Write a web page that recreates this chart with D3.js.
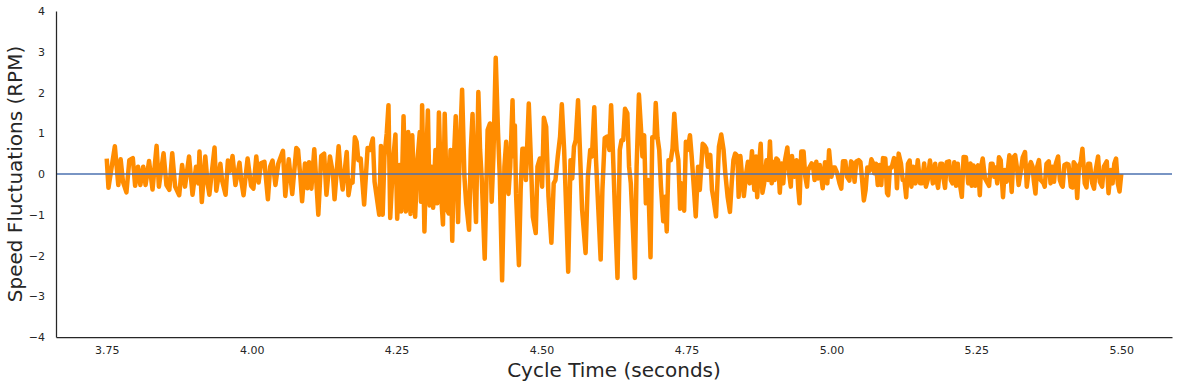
<!DOCTYPE html>
<html>
<head>
<meta charset="utf-8">
<script src="https://cdn.jsdelivr.net/npm/d3@7"></script>
<style>
  body { margin: 0; background: #fff; }
  text { font-family: "DejaVu Sans", sans-serif; fill: #262626; }
</style>
</head>
<body>
<div id="chart"></div>
<script>
// cycle time (s) of each sample
const cycleTime = [
  3.750, 3.753, 3.764, 3.770, 3.774, 3.778, 3.784, 3.789, 3.795, 3.799, 3.804, 3.808, 3.813, 3.817, 3.823, 3.829,
  3.836, 3.840, 3.848, 3.853, 3.858, 3.863, 3.868, 3.875, 3.880, 3.885, 3.892, 3.898, 3.904, 3.908, 3.910, 3.914,
  3.920, 3.924, 3.927, 3.936, 3.939, 3.946, 3.949, 3.955, 3.959, 3.963, 3.967, 3.972, 3.979, 3.982, 3.986, 3.993,
  3.999, 4.003, 4.008, 4.012, 4.016, 4.022, 4.028, 4.032, 4.036, 4.041, 4.046, 4.054, 4.058, 4.064, 4.070, 4.077,
  4.080, 4.084, 4.087, 4.092,
  4.096, 4.099, 4.103, 4.108, 4.111, 4.115, 4.120, 4.125, 4.129, 4.135, 4.140, 4.143, 4.150, 4.153, 4.157, 4.164,
  4.167, 4.171, 4.174, 4.178, 4.181, 4.184, 4.188, 4.194, 4.200, 4.204, 4.209, 4.212, 4.220, 4.223, 4.226, 4.229,
  4.233, 4.236, 4.239, 4.244, 4.248, 4.251, 4.255, 4.258, 4.262, 4.266, 4.270,
  4.274, 4.277, 4.282, 4.286, 4.290, 4.292, 4.294, 4.298, 4.301, 4.304, 4.307, 4.310, 4.313, 4.317, 4.320, 4.323,
  4.327, 4.330, 4.333, 4.337, 4.340, 4.343, 4.346, 4.349, 4.352, 4.356, 4.359, 4.363, 4.367, 4.370, 4.375, 4.378,
  4.381, 4.384, 4.387, 4.391, 4.394, 4.397, 4.402, 4.407, 4.411, 4.414, 4.417, 4.421, 4.425, 4.428, 4.432, 4.436,
  4.439, 4.443, 4.446,
  4.450, 4.452, 4.454, 4.456, 4.461, 4.464, 4.467, 4.470, 4.473, 4.475, 4.478, 4.481, 4.485, 4.490, 4.493, 4.497,
  4.501, 4.504, 4.508, 4.512, 4.517, 4.521, 4.524, 4.528, 4.532, 4.535, 4.539, 4.542, 4.546, 4.550, 4.553, 4.556,
  4.559, 4.563, 4.566, 4.570, 4.576, 4.580, 4.584, 4.587, 4.591, 4.594, 4.598, 4.602, 4.605, 4.609, 4.613, 4.617,
  4.620, 4.623, 4.626,
  4.631, 4.635, 4.638, 4.641, 4.644, 4.648, 4.651, 4.654, 4.658, 4.661, 4.664, 4.668, 4.672, 4.674, 4.677, 4.680,
  4.684, 4.688, 4.691, 4.695, 4.697, 4.700, 4.703, 4.706, 4.710, 4.713, 4.716, 4.719, 4.723, 4.726, 4.729, 4.733,
  4.736, 4.739, 4.742, 4.746, 4.749, 4.752, 4.756, 4.759, 4.763, 4.766, 4.770, 4.773, 4.778, 4.781, 4.784, 4.787,
  4.791, 4.794, 4.797, 4.801,
  4.806, 4.810, 4.814, 4.817, 4.821, 4.825, 4.828, 4.831, 4.834, 4.838, 4.840, 4.843, 4.846, 4.849, 4.853, 4.856,
  4.859, 4.863, 4.867, 4.870, 4.872, 4.875, 4.878, 4.881, 4.884, 4.888, 4.891, 4.894, 4.897, 4.899, 4.902, 4.905,
  4.908, 4.911, 4.914, 4.917, 4.920, 4.924, 4.927, 4.930, 4.932, 4.936, 4.940, 4.943, 4.945, 4.948, 4.952, 4.955,
  4.958, 4.960, 4.966, 4.968, 4.971, 4.974, 4.977, 4.980,
  4.985, 4.989, 4.993, 4.996, 5.000, 5.003, 5.006, 5.010, 5.014, 5.017, 5.020, 5.024, 5.027, 5.031, 5.034, 5.037,
  5.040, 5.043, 5.047, 5.050, 5.053, 5.056, 5.059, 5.062, 5.066, 5.069, 5.072, 5.074, 5.077, 5.080, 5.083, 5.086,
  5.089, 5.093, 5.096, 5.098, 5.101, 5.104, 5.108, 5.111, 5.113, 5.116, 5.120, 5.123, 5.126, 5.129, 5.132, 5.135,
  5.138, 5.141, 5.145, 5.149, 5.153, 5.156,
  5.160, 5.163, 5.166, 5.170, 5.175, 5.179, 5.182, 5.184, 5.188, 5.191, 5.193, 5.196, 5.199, 5.203, 5.206, 5.209,
  5.212, 5.215, 5.218, 5.221, 5.225, 5.228, 5.232, 5.236, 5.240, 5.242, 5.245, 5.248, 5.251, 5.253, 5.256, 5.258,
  5.261, 5.265, 5.268, 5.272, 5.275, 5.278, 5.281, 5.283, 5.286, 5.289, 5.292, 5.296, 5.299, 5.302, 5.307, 5.311,
  5.314, 5.317, 5.320, 5.323, 5.327, 5.330, 5.334, 5.337,
  5.341, 5.344, 5.347, 5.349, 5.352, 5.355, 5.358, 5.361, 5.366, 5.368, 5.371, 5.375, 5.378, 5.381, 5.384, 5.387,
  5.391, 5.394, 5.397, 5.399, 5.402, 5.406, 5.409, 5.413, 5.416, 5.418, 5.421, 5.424, 5.427, 5.430, 5.433, 5.437,
  5.440, 5.443, 5.446, 5.450, 5.453, 5.456, 5.460, 5.463, 5.467, 5.470, 5.475, 5.478, 5.482, 5.485, 5.488, 5.491,
  5.494, 5.497, 5.500
];

// speed fluctuation (RPM) at each of those times
const speedRpm = [
  0.38, -0.34, 0.68, -0.27, 0.36, -0.19, -0.45, 0.34, 0.39, -0.29, 0.18, -0.27, 0.18, -0.27, 0.32, -0.38,
  0.69, -0.31, 0.51, -0.27, -0.39, 0.51, -0.31, -0.52, 0.22, -0.31, 0.43, -0.51, 0.18, -0.23, 0.55, -0.69,
  0.43, -0.23, -0.51, 0.65, -0.41, 0.25, -0.16, -0.51, 0.33, 0.08, 0.44, -0.27, 0.28, -0.16, -0.52, 0.38,
  -0.29, -0.36, 0.43, -0.21, 0.26, 0.30, -0.62, 0.18, 0.33, -0.27, 0.26, 0.57, -0.54, 0.36, -0.49, 0.64,
  0.59, -0.07, -0.67, 0.26,
  -0.35, 0.29, -0.36, 0.61, -0.07, -1.00, 0.44, 0.50, -0.51, 0.43, 0.03, -0.62, 0.68, 0.10, -0.38, 0.54,
  -0.52, -0.16, -0.21, 0.90, 0.79, 0.34, 0.38, -0.75, 0.64, 0.59, 0.87, -0.19, -1.00, 0.69, -1.00, 0.43,
  1.00, 1.69, -1.08, 0.34, 0.97, -1.10, 0.22, -0.92, 1.42, -0.92, 1.03,
  -0.98, 0.95, -1.05, 0.34, 1.03, -0.68, 1.69, -1.41, 0.30, 1.56, -0.77, 0.18, -0.83, 0.59, -0.72, 1.51,
  -0.56, -1.24, 1.48, -0.88, -0.97, 0.59, -1.64, 0.43, 1.42, -1.18, 0.59, 2.07, -0.07, -0.72, -1.37, 0.59,
  1.47, -0.23, -1.18, 2.01, 0.59, -0.15, -2.08, 1.08, 1.24, -0.68, 0.43, 2.85, 1.00, -0.07, -2.61, 0.18,
  0.79, -0.49, 0.18,
  1.81, 0.43, 1.19, -0.47, -2.24, -0.39, 0.62, 0.62, -0.15, 0.59, 1.73, 0.59, -1.05, -1.45, 0.18, 0.38,
  -0.31, 1.38, 1.16, -0.56, -1.69, -0.23, -0.15, 0.43, 0.92, 1.71, 0.59, -0.64, -2.40, 0.34, -0.11, 0.67,
  0.83, 1.81, 0.67, -0.88, -1.94, -0.07, 0.59, 0.43, 1.64, 0.34, -0.88, -2.10, -0.39, 0.88, 0.92, 0.59,
  1.69, 0.59, -0.64,
  -2.55, 0.59, 0.83, 0.83, 1.60, 1.49, 0.18, -0.23, -1.46, -2.55, 0.18, 1.95, 1.00, 0.43, 0.95, -0.72,
  -0.15, -2.04, 0.90, 0.90, 1.74, 0.90, 0.59, -0.31, -1.16, -0.56, -1.41, 0.34, 0.34, 0.63, 1.48, 0.59,
  0.34, -0.85, -0.23, -0.90, 0.79, 0.59, 0.95, 0.43, -0.39, -1.04, 0.18, -0.39, 0.74, 0.70, 0.63, 0.18,
  0.47, -0.39, -0.64, -1.04,
  0.67, 0.97, 0.59, 0.02, -0.56, -0.93, -0.23, 0.34, 0.50, 0.44, -0.56, 0.44, -0.07, -0.54, 0.02, 0.30,
  -0.23, 0.56, -0.39, 0.43, -0.57, 0.18, 0.74, -0.46, -0.23, 0.34, -0.15, 0.80, -0.23, 0.30, -0.15, 0.38,
  0.34, -0.46, 0.26, -0.23, 0.34, 0.65, 0.02, -0.31, 0.44, -0.07, 0.34, -0.39, -0.72, 0.55, 0.55, -0.07,
  -0.31, 0.10, 0.26, 0.22, -0.15, 0.30, -0.11, 0.22,
  -0.35, 0.29, -0.23, 0.58, -0.07, 0.16, 0.16, 0.02, -0.23, -0.36, 0.31, 0.31, -0.07, -0.16, 0.31, 0.26,
  -0.19, 0.31, 0.34, 0.30, -0.15, -0.65, -0.39, 0.16, 0.08, 0.36, 0.26, 0.02, 0.25, -0.27, 0.22, -0.27,
  0.39, 0.38, -0.47, -0.52, 0.16, 0.16, 0.39, 0.33, -0.35, 0.50, 0.26, -0.15, -0.16, -0.57, 0.25, 0.33,
  -0.31, 0.18, -0.23, 0.34, -0.23, -0.23,
  0.26, -0.31, -0.15, 0.33, -0.23, 0.25, -0.19, -0.34, 0.25, 0.25, -0.07, -0.34, 0.29, 0.31, -0.15, -0.23,
  0.29, -0.29, 0.25, -0.19, -0.56, 0.42, 0.41, -0.23, 0.26, -0.29, 0.21, -0.29, 0.16, 0.21, -0.52, 0.16,
  0.38, -0.11, -0.19, -0.29, 0.25, 0.25, -0.07, 0.16, -0.23, 0.41, 0.34, -0.57, 0.10, -0.19, 0.46, -0.44,
  0.41, 0.46, 0.16, -0.27, 0.10, 0.41, 0.54, -0.31,
  0.16, 0.29, 0.18, -0.15, -0.48, 0.18, 0.34, -0.15, -0.23, -0.31, 0.25, 0.31, -0.23, 0.18, -0.19, 0.25,
  0.43, -0.15, -0.27, -0.31, 0.22, 0.25, 0.23, -0.31, -0.33, 0.29, 0.22, -0.59, 0.18, 0.29, 0.62, -0.23,
  -0.33, 0.25, 0.25, -0.23, -0.36, 0.10, 0.43, -0.19, -0.31, 0.18, 0.31, -0.47, 0.10, -0.23, 0.25, 0.38,
  -0.23, -0.43, 0.00
];

const xTicks = [3.75, 4.00, 4.25, 4.50, 4.75, 5.00, 5.25, 5.50];
const yTicks = [-4, -3, -2, -1, 0, 1, 2, 3, 4];

const width = 1179,
  height = 387;
const margin = { top: 11, right: 7, bottom: 50, left: 56 };

const svg = d3.select("#chart")
  .append("svg")
  .attr("width", width)
  .attr("height", height);

// matplotlib-like 5% padding either side of the data
const x = d3.scaleLinear()
  .domain([3.6625, 5.5875])
  .range([margin.left, width - margin.right]);

const y = d3.scaleLinear()
  .domain([-4, 4])
  .range([height - margin.bottom, margin.top]);

const points = cycleTime.map((t, i) => [t, speedRpm[i]]);

const line = d3.line()
  .x(d => x(d[0]))
  .y(d => y(d[1]));

svg.append("path")
  .datum(points)
  .attr("d", line)
  .attr("fill", "none")
  .attr("stroke", "#ff8c00")
  .attr("stroke-width", 4.5)
  .attr("stroke-linejoin", "round");

// zero reference line across the whole axes, sits on top of the signal
svg.append("line")
  .attr("x1", x.range()[0])
  .attr("x2", x.range()[1])
  .attr("y1", y(0))
  .attr("y2", y(0))
  .attr("stroke", "#4c72b0")
  .attr("stroke-opacity", 0.75)
  .attr("stroke-width", 2);

// axes (no tick marks, just the left/bottom spines)
const xAxis = svg.append("g")
  .attr("transform", `translate(0,${height - margin.bottom})`)
  .call(d3.axisBottom(x).tickValues(xTicks).tickFormat(d3.format(".2f")).tickSize(0).tickPadding(9));

const yAxis = svg.append("g")
  .attr("transform", `translate(${margin.left},0)`)
  .call(d3.axisLeft(y).tickValues(yTicks).tickFormat(d3.format("d")).tickSize(0).tickPadding(11));

[xAxis, yAxis].forEach(g => {
  g.select(".domain").attr("stroke", "#262626").attr("stroke-width", 1.25);
  g.selectAll("text")
    .style("font-family", "DejaVu Sans, sans-serif")
    .style("font-size", "11px")
    .attr("fill", "#262626");
});

svg.append("text")
  .attr("x", (margin.left + width - margin.right) / 2)
  .attr("y", 377)
  .attr("text-anchor", "middle")
  .style("font-size", "20px")
  .text("Cycle Time (seconds)");

svg.append("text")
  .attr("transform", `translate(22,${(margin.top + height - margin.bottom) / 2}) rotate(-90)`)
  .attr("text-anchor", "middle")
  .style("font-size", "20px")
  .text("Speed Fluctuations (RPM)");
</script>
</body>
</html>
